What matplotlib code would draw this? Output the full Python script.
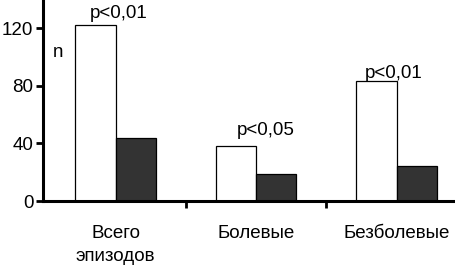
import numpy as np
import matplotlib.pyplot as plt

plt.rcParams['font.family'] = ['Liberation Sans', 'DejaVu Sans']

categories = ["Всего\nэпизодов", "Болевые", "Безболевые"]
white_vals = [122, 38, 83]
dark_vals = [44, 19, 24]
p_labels = ["p<0,01", "p<0,05", "p<0,01"]
p_x = [0.025, 1.07, 1.98]
p_y = [127, 46, 85.5]

fs = 13.5

fig = plt.figure(figsize=(4.55, 2.65), dpi=100)
ax = fig.add_axes([43 / 455, 1 - 201 / 265, 1 - 43 / 455, 201 / 265])

x = np.arange(len(categories))
w = 0.288
ax.bar(x - w / 2, white_vals, w, color="white", edgecolor="black", linewidth=0.9)
ax.bar(x + w / 2, dark_vals, w, color="#333333", edgecolor="black", linewidth=0.9)

for xi, yi, t in zip(p_x, p_y, p_labels):
    ax.text(xi, yi, t, ha="center", va="baseline", fontsize=fs)

ax.text(-0.41, 100, "n", ha="center", va="baseline", fontsize=fs)

ax.set_xlim(-0.516, 2.416)
ax.set_ylim(0, 139.5)
ax.set_yticks([0, 40, 80, 120])
ax.tick_params(axis="y", labelsize=fs, width=2, length=5, direction="out", pad=2)

ax.set_xticks([0.5, 1.5])
ax.set_xticklabels([])
ax.tick_params(axis="x", which="major", width=2, length=5, direction="out")
ax.set_xticks(x, minor=True)
ax.set_xticklabels(categories, minor=True, fontsize=fs, linespacing=1.5)
ax.tick_params(axis="x", which="minor", length=0, pad=17)

for s in ["top", "right"]:
    ax.spines[s].set_visible(False)
ax.spines["left"].set_linewidth(2.2)
ax.spines["bottom"].set_linewidth(2.2)

fig.savefig("out.png", dpi=100)
